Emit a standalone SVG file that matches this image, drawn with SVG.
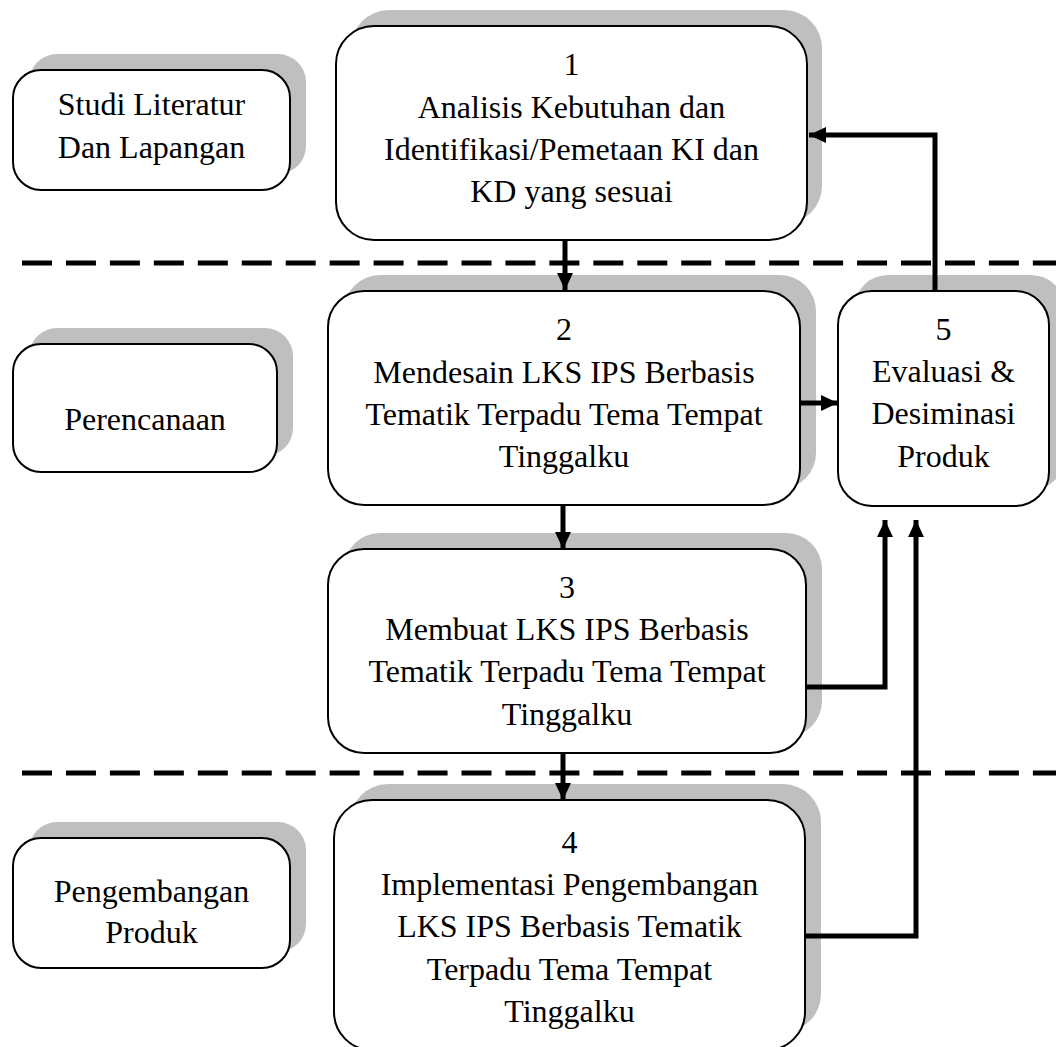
<svg xmlns="http://www.w3.org/2000/svg" width="1056" height="1047" viewBox="0 0 1056 1047">
  <style>
    .shadow { fill: #bfbfbf; stroke: none; }
    .box { fill: #ffffff; stroke: #000000; stroke-width: 2; }
    .label { font-family: "Liberation Serif", "Times New Roman", serif; font-size: 32px; fill: #000000; text-anchor: middle; }
    .link { fill: none; stroke: #000000; stroke-width: 5; }
    .divider { fill: none; stroke: #000000; stroke-width: 5; stroke-dasharray: 30 13.95; }
  </style>
  <defs>
    <marker id="arrow" markerUnits="userSpaceOnUse" markerWidth="18" markerHeight="18" viewBox="0 0 18 18" refX="17" refY="9" orient="auto">
      <path d="M0,1 L17,9 L0,17 Z" fill="#000000"/>
    </marker>
  </defs>

  <rect width="1056" height="1047" fill="#ffffff"/>

  <!-- phase dividers -->
  <g id="dividers">
    <line class="divider" x1="22" y1="263" x2="1056" y2="263"/>
    <line class="divider" x1="22" y1="773" x2="1056" y2="773"/>
  </g>

  <!-- phase labels -->
  <g id="phase-studi">
    <rect class="shadow" x="29" y="54" width="277" height="120" rx="28"/>
    <rect class="box" x="13" y="70" width="277" height="120" rx="28"/>
    <text class="label" x="151.5" y="115">Studi Literatur</text>
    <text class="label" x="151.5" y="158">Dan Lapangan</text>
  </g>

  <g id="phase-perencanaan">
    <rect class="shadow" x="29" y="328" width="264" height="128" rx="28"/>
    <rect class="box" x="13" y="344" width="264" height="128" rx="28"/>
    <text class="label" x="145" y="430">Perencanaan</text>
  </g>

  <g id="phase-pengembangan">
    <rect class="shadow" x="29" y="822" width="277" height="130" rx="28"/>
    <rect class="box" x="13" y="838" width="277" height="130" rx="28"/>
    <text class="label" x="151.5" y="902">Pengembangan</text>
    <text class="label" x="151.5" y="943">Produk</text>
  </g>

  <!-- process steps -->
  <g id="step-1">
    <rect class="shadow" x="351" y="10" width="471" height="214" rx="38"/>
    <rect class="box" x="336" y="26" width="471" height="214" rx="38"/>
    <text class="label" x="571.5" y="75">1</text>
    <text class="label" x="571.5" y="118">Analisis Kebutuhan dan</text>
    <text class="label" x="571.5" y="160">Identifikasi/Pemetaan KI dan</text>
    <text class="label" x="571.5" y="202">KD yang sesuai</text>
  </g>

  <g id="step-2">
    <rect class="shadow" x="344" y="275" width="472" height="214" rx="36"/>
    <rect class="box" x="328" y="291" width="472" height="214" rx="36"/>
    <text class="label" x="564" y="340">2</text>
    <text class="label" x="564" y="383">Mendesain LKS IPS Berbasis</text>
    <text class="label" x="564" y="425">Tematik Terpadu Tema Tempat</text>
    <text class="label" x="564" y="467">Tinggalku</text>
  </g>

  <g id="step-3">
    <rect class="shadow" x="344" y="533" width="478" height="204" rx="36"/>
    <rect class="box" x="328" y="549" width="478" height="204" rx="36"/>
    <text class="label" x="567" y="598">3</text>
    <text class="label" x="567" y="640">Membuat LKS IPS Berbasis</text>
    <text class="label" x="567" y="682">Tematik Terpadu Tema Tempat</text>
    <text class="label" x="567" y="725">Tinggalku</text>
  </g>

  <g id="step-4">
    <rect class="shadow" x="350" y="784" width="471" height="248" rx="38"/>
    <rect class="box" x="334" y="800" width="471" height="250" rx="38"/>
    <text class="label" x="569.5" y="853">4</text>
    <text class="label" x="569.5" y="895">Implementasi Pengembangan</text>
    <text class="label" x="569.5" y="937">LKS IPS Berbasis Tematik</text>
    <text class="label" x="569.5" y="980">Terpadu Tema Tempat</text>
    <text class="label" x="569.5" y="1022">Tinggalku</text>
  </g>

  <g id="step-5">
    <rect class="shadow" x="854" y="275" width="211" height="215" rx="34"/>
    <rect class="box" x="838" y="291" width="211" height="215" rx="34"/>
    <text class="label" x="943.5" y="340">5</text>
    <text class="label" x="943.5" y="382">Evaluasi &amp;</text>
    <text class="label" x="943.5" y="424">Desiminasi</text>
    <text class="label" x="943.5" y="467">Produk</text>
  </g>

  <!-- connectors -->
  <g id="connectors">
    <path class="link" d="M565,240 V290" marker-end="url(#arrow)"/>
    <path class="link" d="M563,505 V549" marker-end="url(#arrow)"/>
    <path class="link" d="M563,753 V800" marker-end="url(#arrow)"/>
    <path class="link" d="M800,403 H838" marker-end="url(#arrow)"/>
    <path class="link" d="M935,291 V135 H809" marker-end="url(#arrow)"/>
    <path class="link" d="M806,687 H885 V520" marker-end="url(#arrow)"/>
    <path class="link" d="M806,936 H916 V520" marker-end="url(#arrow)"/>
  </g>
</svg>
